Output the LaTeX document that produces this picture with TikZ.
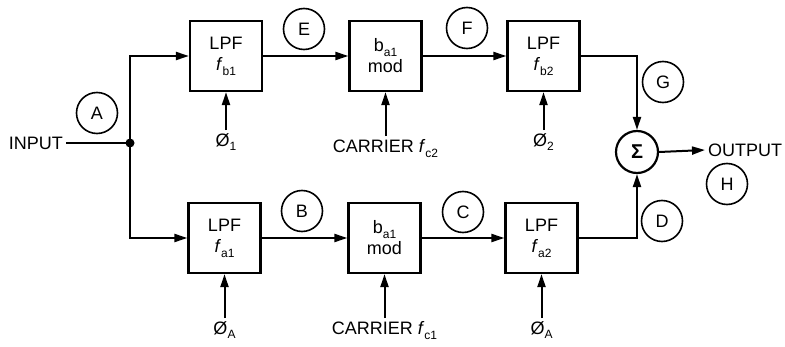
\documentclass[tikz,border=0pt]{standalone}
\usepackage{fontspec}
\setmainfont{Liberation Sans}
\usetikzlibrary{positioning, arrows.meta}
\definecolor{inkMain}{HTML}{000000}
\newcommand{\lowsub}[1]{\raisebox{-0.5ex}{\fontsize{12}{12}\selectfont #1}}
\tikzset{
  lpfbox/.style={draw=inkMain, line width=2.2pt, minimum width=72pt, minimum height=70pt,
    inner sep=2pt, align=center, font=\fontsize{18}{21}\selectfont},
  tagcircle/.style={circle, draw=inkMain, line width=1.6pt, minimum size=41pt,
    inner sep=0pt, font=\fontsize{18}{18}\selectfont},
  sumcircle/.style={circle, draw=inkMain, line width=2.2pt, minimum size=42pt,
    inner sep=0pt, font=\fontsize{20}{20}\selectfont\bfseries},
  lbl/.style={inner sep=3pt, font=\fontsize{18}{18}\selectfont},
  sigline/.style={line width=2pt, color=inkMain},
  sigarrow/.style={-{Triangle[length=13pt, width=8pt]}, line width=2pt, color=inkMain},
}
\begin{document}
\begin{tikzpicture}[x=1pt, y=1pt]
  \useasboundingbox (0,0) rectangle (785,346);

  % === Input and split ===
  \node[lbl, anchor=east] (input) at (66,203) {INPUT};
  \coordinate (split) at (130,203);

  % === Upper path ===
  \node[lpfbox] (fbone) at (226,290) {LPF\\\textit{f}\lowsub{b1}};
  \node[lpfbox] (modtop) at (385.5,290) {b\lowsub{a1}\\mod};
  \node[lpfbox] (fbtwo) at (543.5,290) {LPF\\\textit{f}\lowsub{b2}};

  % === Lower path ===
  \node[lpfbox] (faone) at (224.5,108) {LPF\\\textit{f}\lowsub{a1}};
  \node[lpfbox] (modbot) at (384.5,108) {b\lowsub{a1}\\mod};
  \node[lpfbox] (fatwo) at (541.5,108) {LPF\\\textit{f}\lowsub{a2}};

  % === Summing junction and output ===
  \node[sumcircle] (sum) at (637,194) {Σ};
  \node[lbl, anchor=west] (output) at (705,196) {OUTPUT};

  % === Control inputs ===
  \node[lbl, below=38pt of fbone] (phione) {Ø\lowsub{1}};
  \node[lbl, below=44pt of modtop] (carrtwo) {CARRIER \textit{f}\lowsub{c2}};
  \node[lbl, below=38pt of fbtwo] (phitwo) {Ø\lowsub{2}};
  \node[lbl, below=44pt of faone] (phiaone) {Ø\lowsub{A}};
  \node[lbl, below=44pt of modbot] (carrone) {CARRIER \textit{f}\lowsub{c1}};
  \node[lbl, below=44pt of fatwo] (phiatwo) {Ø\lowsub{A}};

  % === Test points ===
  \node[tagcircle] (tpa) at (97,233) {A};
  \node[tagcircle] (tpb) at (302,135) {B};
  \node[tagcircle] (tpc) at (463,134) {C};
  \node[tagcircle] (tpd) at (662,125) {D};
  \node[tagcircle] (tpe) at (304,317) {E};
  \node[tagcircle] (tpf) at (467,318) {F};
  \node[tagcircle] (tpg) at (663,264) {G};
  \node[tagcircle] (tph) at (727,162) {H};

  % Signal flow
  \draw[sigline] (input.east) -- (split);
  \fill[inkMain] (split) circle (4.5pt);
  \draw[sigarrow] (split) |- (fbone.west);
  \draw[sigarrow] (split) |- (faone.west);
  \draw[sigarrow] (fbone) -- (modtop);
  \draw[sigarrow] (modtop) -- (fbtwo);
  \draw[sigarrow] (faone) -- (modbot);
  \draw[sigarrow] (modbot) -- (fatwo);
  \draw[sigarrow] (fbtwo.east) -| (sum.north);
  \draw[sigarrow] (fatwo.east) -| (sum.south);
  \draw[sigarrow] (sum.east) -- (output.west);

  % Control arrows
  \draw[sigarrow] (phione) -- (fbone);
  \draw[sigarrow] (carrtwo) -- (modtop);
  \draw[sigarrow] (phitwo) -- (fbtwo);
  \draw[sigarrow] (phiaone) -- (faone);
  \draw[sigarrow] (carrone) -- (modbot);
  \draw[sigarrow] (phiatwo) -- (fatwo);

\end{tikzpicture}
\end{document}
